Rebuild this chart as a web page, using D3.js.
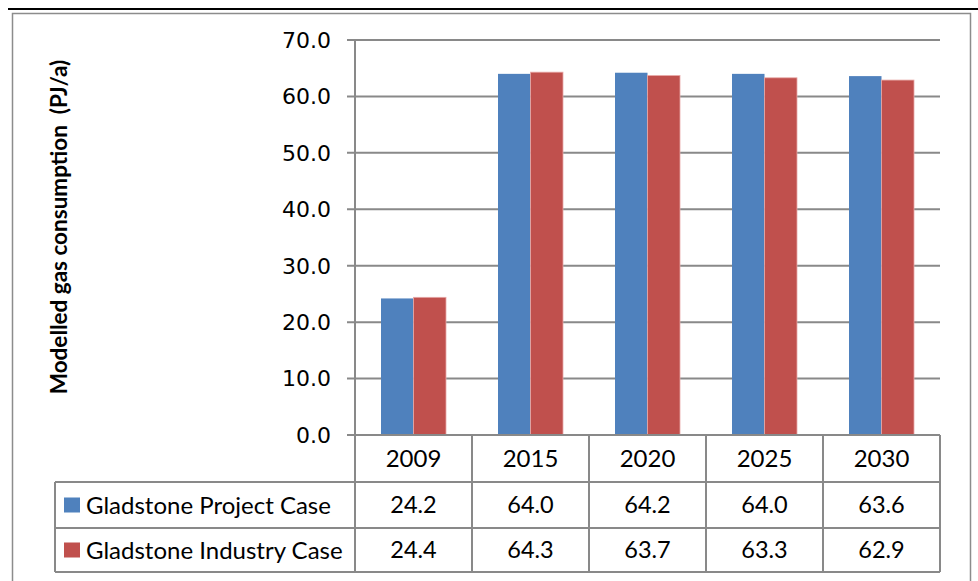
<!DOCTYPE html>
<html>
<head>
<meta charset="utf-8">
<script src="https://cdn.jsdelivr.net/npm/d3@7"></script>
<style>
  html, body { margin: 0; padding: 0; background: #fff; }
  svg { display: block; }
</style>
</head>
<body>
<svg id="chart" width="978" height="581"></svg>
<script>
// ---- data ----
const categories = ["2009", "2015", "2020", "2025", "2030"];
const seriesNames = ["Gladstone Project Case", "Gladstone Industry Case"];
const projectCase = [24.2, 64.0, 64.2, 64.0, 63.6];
const industryCase = [24.4, 64.3, 63.7, 63.3, 62.9];
const yTicks = [0, 10, 20, 30, 40, 50, 60, 70];
const yTitle = "Modelled gas consumption  (PJ/a)";
const colors = ["#4F81BD", "#C0504D"];

const seriesValues = [projectCase, industryCase];

const svg = d3.select("#chart");
const gridColor = "#898989";

// page decoration: heavy rule and chart frame
svg.append("line").attr("x1", 8).attr("x2", 978).attr("y1", 9).attr("y2", 9)
  .attr("stroke", "#000").attr("stroke-width", 2.2);
svg.append("path")
  .attr("d", "M12.5,581 V13.5 H970.5 V581")
  .attr("fill", "none").attr("stroke", "#8c8c8c").attr("stroke-width", 1.5);

// scales
const x = d3.scaleBand().domain(categories).range([355, 940]).padding(0);
const xs = d3.scaleBand().domain(seriesNames).range([0, x.bandwidth()])
  .paddingInner(0).paddingOuter(0.8);
const y = d3.scaleLinear().domain([0, 70]).range([435, 40]);

// gridlines
svg.append("g").selectAll("line").data(yTicks).join("line")
  .attr("x1", 347).attr("x2", 940)
  .attr("y1", d => y(d)).attr("y2", d => y(d))
  .attr("stroke", gridColor).attr("stroke-width", 2);

// tick labels
svg.append("g").selectAll("text").data(yTicks).join("text")
  .attr("x", 331).attr("y", d => y(d)).attr("dy", "0.36em")
  .attr("text-anchor", "end")
  .attr("font-family", "'DejaVu Sans', Verdana, sans-serif").attr("font-weight", "normal")
  .attr("font-size", 22).attr("fill", "#000")
  .text(d => d3.format(".1f")(d));

// bars
const gBars = svg.append("g");
seriesNames.forEach((s, si) => {
  gBars.append("g").selectAll("rect").data(categories).join("rect")
    .attr("x", (c) => x(c) + xs(s))
    .attr("width", xs.bandwidth())
    .attr("y", (c, i) => y(seriesValues[si][i]))
    .attr("height", (c, i) => y(0) - y(seriesValues[si][i]))
    .attr("fill", colors[si])
    .attr("stroke", si === 1 ? "#e8a9a7" : "none")
    .attr("stroke-width", 0.8);
});

// vertical axis line
svg.append("line").attr("x1", 355).attr("x2", 355).attr("y1", y(70)).attr("y2", 572)
  .attr("stroke", gridColor).attr("stroke-width", 2);
// zero line
svg.append("line").attr("x1", 347).attr("x2", 940).attr("y1", y(0)).attr("y2", y(0))
  .attr("stroke", gridColor).attr("stroke-width", 2);

// data table
const rowTop = [435, 482, 528];
const rowBot = [482, 528, 572];
const tableLeft = 55;
const tg = svg.append("g");
[482, 528, 572].forEach(yy => {
  tg.append("line").attr("x1", tableLeft).attr("x2", 940).attr("y1", yy).attr("y2", yy)
    .attr("stroke", gridColor).attr("stroke-width", 2);
});
tg.append("line").attr("x1", tableLeft).attr("x2", tableLeft).attr("y1", 482).attr("y2", 572)
  .attr("stroke", gridColor).attr("stroke-width", 2);
categories.forEach(c => {
  const xx = x(c) + x.bandwidth();
  tg.append("line").attr("x1", xx).attr("x2", xx).attr("y1", 435).attr("y2", 572)
    .attr("stroke", gridColor).attr("stroke-width", 2);
});

const tableFont = "Lato, 'Open Sans', sans-serif";
tg.selectAll("text.year").data(categories).join("text")
  .attr("class", "year")
  .attr("x", c => x(c) + x.bandwidth() / 2)
  .attr("y", (rowTop[0] + rowBot[0]) / 2).attr("dy", "0.36em")
  .attr("text-anchor", "middle")
  .attr("font-family", tableFont).attr("font-size", 24).attr("fill", "#000")
  .text(c => c);

seriesNames.forEach((s, si) => {
  const cy = (rowTop[si + 1] + rowBot[si + 1]) / 2;
  tg.append("rect").attr("x", 64).attr("y", cy - 7.5).attr("width", 16).attr("height", 15)
    .attr("fill", colors[si]);
  tg.append("text").attr("x", 86).attr("y", cy).attr("dy", "0.36em")
    .attr("font-family", tableFont).attr("font-size", 24).attr("fill", "#000")
    .text(s);
  tg.append("g").selectAll("text").data(categories).join("text")
    .attr("x", c => x(c) + x.bandwidth() / 2)
    .attr("y", cy).attr("dy", "0.36em")
    .attr("text-anchor", "middle")
    .attr("font-family", tableFont).attr("font-size", 23.5).attr("fill", "#000")
    .text((c, i) => d3.format(".1f")(seriesValues[si][i]));
});

// y-axis title
svg.append("text")
  .attr("transform", "translate(67,227) rotate(-90)")
  .attr("text-anchor", "middle")
  .style("white-space", "pre")
  .attr("font-family", tableFont).attr("font-weight", "bold").attr("font-size", 22.5)
  .attr("fill", "#000")
  .text(yTitle);
</script>
</body>
</html>
